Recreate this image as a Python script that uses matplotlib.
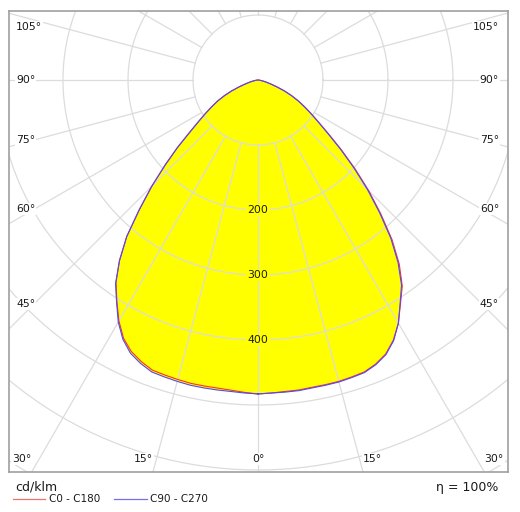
import numpy as np
import matplotlib
matplotlib.use("Agg")
import matplotlib.pyplot as plt
from matplotlib.lines import Line2D

# light distribution, cd/klm, gamma 0..90 deg in 2.5 deg steps
gamma = np.arange(0, 92.5, 2.5)
c0 = [483, 482, 481, 481, 480, 480, 480, 479, 478, 473, 465, 451, 432, 408, 387, 357, 321, 280, 241,
      203, 168, 138, 115, 98, 83, 70, 57, 44, 31, 21, 14, 9, 5, 3, 1.5, 0.5, 0]
c180 = [483, 481, 479, 478, 478, 478, 477, 476, 475, 469, 461, 448, 428, 404, 381, 350, 314, 270, 231,
        194, 162, 133, 112, 96, 82, 70, 57, 44, 31, 21, 14, 9, 5, 3, 1.5, 0.5, 0]
c90 = [483, 482, 482, 482, 481, 481, 481, 480, 479, 474, 466, 452, 432, 407, 385, 354, 318, 277, 238,
       200, 166, 136, 114, 97, 83, 70, 57, 44, 31, 21, 14, 9, 5, 3, 1.5, 0.5, 0]
c270 = [483, 482, 481, 481, 481, 481, 480, 479, 478, 472, 464, 450, 430, 405, 382, 350, 314, 270, 231,
        194, 162, 133, 112, 96, 82, 70, 57, 44, 31, 21, 14, 9, 5, 3, 1.5, 0.5, 0]

rings = [100, 200, 300, 400, 500, 600, 700, 800]
ring_labels = [200, 300, 400]
side_angles = [45, 60, 75, 90, 105]
bottom_angles = [0, 15, 30]

W, H = 520, 512
px = 0.65          # pixel per cd/klm
cx, cy = 258, 80   # centre of the diagram in pixels
frame = (9, 11, 508, 472)

grid_col = "#dcdcdc"
txt_col = "#1a1a1a"
fs = 7.8


def curve(right, left):
    g = np.radians(gamma)
    r1 = np.array(right, float)
    r2 = np.array(left, float)
    x = np.concatenate([r1 * np.sin(g), -(r2 * np.sin(g))[::-1]])
    y = np.concatenate([-r1 * np.cos(g), -(r2 * np.cos(g))[::-1]])
    return x, y


fig = plt.figure(figsize=(W / 100, H / 100), dpi=100, facecolor="white")
ax = fig.add_axes([frame[0] / W, (H - frame[3]) / H,
                   (frame[2] - frame[0]) / W, (frame[3] - frame[1]) / H])
ax.set_xlim((frame[0] - cx) / px, (frame[2] - cx) / px)
ax.set_ylim((cy - frame[3]) / px, (cy - frame[1]) / px)
ax.set_xticks([])
ax.set_yticks([])
for s in ax.spines.values():
    s.set_color("#a0a0a0")
    s.set_linewidth(1.2)

# yellow area
xr, yr = curve(c0, c180)
xb, yb = curve(c90, c270)
ax.fill(xr, yr, color="#ffff00", lw=0, zorder=1)
ax.fill(xb, yb, color="#ffff00", lw=0, zorder=1)

# grid
t = np.linspace(0, 2 * np.pi, 400)
for r in rings:
    ax.plot(r * np.cos(t), r * np.sin(t), color=grid_col, lw=0.9, zorder=2)
for a in range(0, 360, 15):
    ar = np.radians(a)
    ax.plot([100 * np.sin(ar), 1200 * np.sin(ar)],
            [-100 * np.cos(ar), -1200 * np.cos(ar)], color=grid_col, lw=0.9, zorder=2)

# curves
ax.plot(xr, yr, color="#ff3030", lw=0.8, zorder=4)
ax.plot(xb, yb, color="#4a4aff", lw=0.8, zorder=5)

# ring labels
for r in ring_labels:
    ax.text(0, -r, str(r), ha="center", va="center", fontsize=fs, color=txt_col, zorder=6,
            bbox=dict(boxstyle="square,pad=0.1", fc="#ffff00", ec="none"))

# angle labels
xl = (16 - cx) / px
xrt = (499 - cx) / px
ytop = (cy - 27) / px
for a in side_angles:
    y = -344.6 / np.tan(np.radians(a))
    y = min(y, ytop)
    for x, ha in ((xl, "left"), (xrt, "right")):
        ax.text(x, y, "%d°" % a, ha=ha, va="center", fontsize=fs, color=txt_col, zorder=6,
                bbox=dict(boxstyle="square,pad=0.1", fc="white", ec="none"))
yb_lab = (cy - 459) / px
ybot = (cy - frame[3]) / px
for a in bottom_angles:
    xx = -ybot * np.tan(np.radians(a))
    if a == 0:
        pos = [(0, "center")]
    else:
        pos = [(-xx, "right"), (xx, "left")]
    for x, ha in pos:
        ax.text(x, yb_lab, "%d°" % a, ha=ha, va="center", fontsize=fs, color=txt_col, zorder=6,
                bbox=dict(boxstyle="square,pad=0.1", fc="white", ec="none"))

# legend below the frame
fig.text(15 / W, 1 - 487 / H, "cd/klm", ha="left", va="center", fontsize=9, color=txt_col)
fig.text(498 / W, 1 - 487 / H, "η = 100%", ha="right", va="center", fontsize=9, color=txt_col)
fig.add_artist(Line2D([13 / W, 45 / W], [1 - 499 / H] * 2, color="#f07070", lw=0.9))
fig.text(49 / W, 1 - 499 / H, "C0 - C180", ha="left", va="center", fontsize=7.5, color=txt_col)
fig.add_artist(Line2D([114 / W, 147 / W], [1 - 499 / H] * 2, color="#7070f0", lw=0.9))
fig.text(150 / W, 1 - 499 / H, "C90 - C270", ha="left", va="center", fontsize=7.5, color=txt_col)

fig.savefig("out.png", dpi=100, facecolor="white")
